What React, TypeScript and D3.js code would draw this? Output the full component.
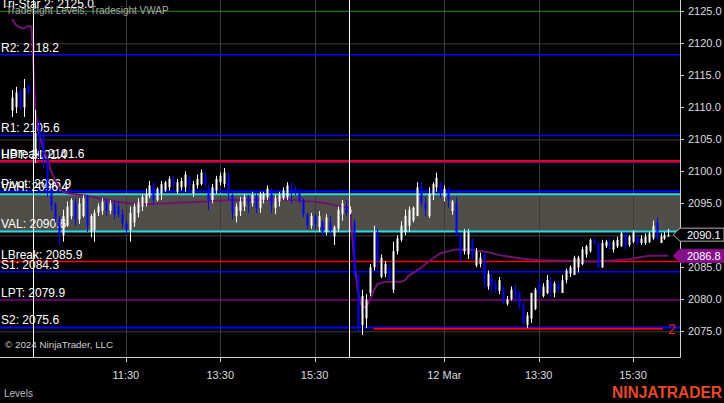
import React from "react";
import * as d3 from "d3";

const WIDTH = 724;
const HEIGHT = 403;
const PLOT_RIGHT = 680;
const PLOT_BOTTOM = 357;
const FONT = "'Liberation Sans', Arial, sans-serif";

// ---------- data ----------
const priceTicks = [2075, 2080, 2085, 2090, 2095, 2100, 2105, 2110, 2115, 2120, 2125];
const gridPrices = [2075, 2090, 2105, 2120];
const timeTickIdx = [23, 47, 71, 104, 128, 152];
const timeTickLabels = ["11:30", "13:30", "15:30", "12 Mar", "13:30", "15:30"];
const sessionBreakIdx = [-0.7, 79.8];

const levelNames = ["Tri-Star 2", "R2", "R1", "UBreak", "HPT", "Pivot", "VAH", "VAL", "LBreak", "S1", "LPT", "S2"];
const levelValues = [2125.0, 2118.2, 2105.6, 2101.6, 2101.4, 2096.9, 2096.4, 2090.6, 2085.9, 2084.3, 2079.9, 2075.6];

// [bar index, open, high, low, close]
const candles: [number, number, number, number, number][] = [
  [-6, 2109.5, 2112.7, 2108.5, 2111.5],
  [-5, 2110.0, 2113.2, 2109.1, 2112.3],
  [-4, 2112.5, 2112.7, 2109.6, 2110.0],
  [-3, 2110.0, 2114.4, 2108.5, 2113.0],
  [-2, 2113.4, 2113.5, 2112.0, 2112.2],
  [0, 2102.5, 2109.6, 2101.3, 2106.0],
  [1, 2106.9, 2108.0, 2101.8, 2105.3],
  [2, 2105.6, 2106.5, 2100.5, 2101.8],
  [3, 2101.8, 2102.2, 2096.0, 2096.6],
  [4, 2097.0, 2097.5, 2093.8, 2094.7],
  [5, 2094.8, 2095.2, 2092.0, 2092.6],
  [6, 2092.5, 2093.0, 2088.4, 2090.0],
  [7, 2090.0, 2094.0, 2089.0, 2093.0],
  [8, 2091.5, 2095.3, 2091.3, 2094.5],
  [9, 2093.0, 2095.8, 2092.5, 2095.5],
  [10, 2095.2, 2095.8, 2091.5, 2092.5],
  [11, 2092.5, 2095.8, 2091.8, 2095.0],
  [12, 2093.0, 2096.3, 2092.8, 2095.8],
  [13, 2096.0, 2096.3, 2090.5, 2091.5],
  [14, 2090.5, 2093.3, 2089.7, 2093.0],
  [15, 2090.8, 2094.0, 2089.0, 2093.5],
  [16, 2093.5, 2095.0, 2093.0, 2094.5],
  [17, 2093.8, 2095.8, 2093.2, 2095.2],
  [18, 2095.2, 2095.6, 2093.0, 2093.8],
  [19, 2093.8, 2095.5, 2093.3, 2095.0],
  [20, 2095.0, 2095.5, 2092.5, 2093.3],
  [21, 2094.5, 2095.3, 2092.8, 2093.3],
  [22, 2093.3, 2094.0, 2091.2, 2091.8],
  [23, 2091.8, 2092.3, 2090.2, 2090.8],
  [24, 2090.8, 2094.5, 2089.0, 2093.5],
  [25, 2092.0, 2095.0, 2091.3, 2094.5],
  [26, 2093.5, 2095.8, 2092.8, 2095.2],
  [27, 2094.5, 2096.5, 2093.8, 2096.0],
  [28, 2095.0, 2097.3, 2094.5, 2096.5],
  [29, 2096.2, 2098.5, 2095.8, 2097.8],
  [30, 2097.8, 2098.3, 2094.8, 2095.5],
  [31, 2095.5, 2097.5, 2095.3, 2097.3],
  [32, 2096.5, 2098.5, 2095.5, 2098.0],
  [33, 2097.0, 2098.5, 2096.8, 2098.3],
  [34, 2097.5, 2099.2, 2097.0, 2098.8],
  [35, 2098.8, 2099.3, 2097.3, 2098.0],
  [36, 2096.8, 2098.8, 2096.5, 2098.3],
  [37, 2097.5, 2099.0, 2097.0, 2098.5],
  [38, 2097.5, 2100.0, 2096.8, 2099.5],
  [39, 2099.0, 2099.3, 2097.0, 2097.8],
  [40, 2096.5, 2098.5, 2096.0, 2098.0],
  [41, 2097.8, 2099.5, 2097.3, 2098.8],
  [42, 2098.0, 2100.3, 2097.8, 2099.8],
  [43, 2099.3, 2099.8, 2097.5, 2098.0],
  [44, 2097.5, 2098.0, 2094.0, 2095.5],
  [45, 2095.5, 2098.0, 2095.0, 2097.5],
  [46, 2097.0, 2099.3, 2096.5, 2098.8],
  [47, 2098.3, 2099.8, 2097.8, 2099.3],
  [48, 2098.0, 2100.5, 2097.5, 2099.8],
  [49, 2099.3, 2099.8, 2095.5, 2096.5],
  [50, 2096.3, 2096.5, 2092.5, 2093.5],
  [51, 2093.0, 2095.0, 2092.0, 2094.5],
  [52, 2093.8, 2096.0, 2093.0, 2095.3],
  [53, 2094.5, 2096.5, 2093.8, 2096.0],
  [54, 2096.0, 2096.3, 2093.5, 2095.0],
  [55, 2095.0, 2096.8, 2094.5, 2096.3],
  [56, 2096.2, 2096.5, 2093.5, 2094.3],
  [57, 2094.3, 2096.8, 2093.5, 2096.5],
  [58, 2095.5, 2096.8, 2095.0, 2096.5],
  [59, 2096.0, 2097.8, 2095.5, 2097.3],
  [60, 2097.0, 2097.3, 2093.5, 2094.8],
  [61, 2094.3, 2096.3, 2093.3, 2095.8],
  [62, 2095.3, 2096.8, 2094.5, 2096.3],
  [63, 2095.8, 2097.5, 2095.5, 2097.0],
  [64, 2096.0, 2098.3, 2095.5, 2097.8],
  [65, 2097.5, 2098.3, 2095.0, 2096.8],
  [66, 2097.3, 2097.8, 2096.3, 2096.8],
  [67, 2096.8, 2097.3, 2095.0, 2095.5],
  [68, 2095.5, 2095.8, 2092.8, 2093.3],
  [69, 2093.3, 2093.5, 2091.0, 2091.5],
  [70, 2091.5, 2093.5, 2091.0, 2093.0],
  [71, 2093.0, 2093.3, 2091.0, 2091.8],
  [72, 2091.3, 2093.8, 2090.5, 2093.0],
  [73, 2092.0, 2092.3, 2090.0, 2090.5],
  [74, 2090.5, 2093.3, 2090.0, 2092.8],
  [75, 2092.0, 2093.0, 2089.8, 2090.8],
  [76, 2089.8, 2091.5, 2088.5, 2091.3],
  [77, 2091.0, 2094.5, 2090.5, 2094.0],
  [78, 2093.3, 2095.5, 2092.3, 2095.0],
  [79, 2094.5, 2095.5, 2093.0, 2093.5],
  [80, 2093.5, 2094.5, 2093.3, 2094.0],
  [81, 2092.0, 2092.5, 2083.5, 2083.8],
  [82, 2083.8, 2084.0, 2074.9, 2075.7],
  [83, 2076.0, 2081.5, 2074.4, 2080.5],
  [84, 2077.0, 2080.8, 2075.5, 2080.0],
  [85, 2081.0, 2085.5, 2080.5, 2085.0],
  [86, 2085.0, 2091.5, 2084.5, 2090.5],
  [87, 2090.5, 2091.0, 2084.8, 2086.0],
  [88, 2083.5, 2087.0, 2083.3, 2086.5],
  [89, 2084.0, 2086.0, 2083.5, 2085.5],
  [90, 2085.0, 2085.5, 2083.0, 2083.3],
  [91, 2081.5, 2089.0, 2081.0, 2087.5],
  [92, 2087.5, 2090.0, 2087.0, 2089.5],
  [93, 2089.3, 2092.2, 2089.0, 2091.5],
  [94, 2090.5, 2094.0, 2090.0, 2093.0],
  [95, 2091.5, 2094.5, 2090.5, 2094.0],
  [96, 2092.3, 2094.5, 2092.0, 2094.3],
  [97, 2093.0, 2098.3, 2093.0, 2097.5],
  [98, 2097.8, 2098.3, 2094.5, 2095.0],
  [99, 2095.0, 2096.0, 2093.0, 2094.0],
  [100, 2093.0, 2097.5, 2092.7, 2096.5],
  [101, 2096.3, 2098.3, 2095.5, 2098.0],
  [102, 2097.5, 2099.8, 2096.8, 2099.0],
  [103, 2098.0, 2098.3, 2095.8, 2096.5],
  [104, 2096.0, 2097.8, 2095.3, 2097.3],
  [105, 2097.3, 2097.5, 2094.3, 2095.5],
  [106, 2093.8, 2095.5, 2093.2, 2095.3],
  [107, 2095.0, 2096.0, 2089.8, 2090.0],
  [108, 2090.0, 2090.3, 2085.8, 2087.0],
  [109, 2087.5, 2091.0, 2087.0, 2090.5],
  [110, 2087.0, 2091.0, 2086.3, 2090.5],
  [111, 2089.3, 2089.5, 2086.3, 2086.5],
  [112, 2085.3, 2088.0, 2085.0, 2087.5],
  [113, 2085.5, 2087.3, 2085.0, 2086.5],
  [114, 2087.0, 2087.3, 2081.8, 2082.5],
  [115, 2082.0, 2084.5, 2081.5, 2084.0],
  [116, 2083.3, 2084.0, 2081.0, 2082.0],
  [117, 2082.5, 2083.0, 2081.0, 2081.5],
  [118, 2081.3, 2083.5, 2080.8, 2083.0],
  [119, 2081.8, 2082.0, 2079.3, 2079.5],
  [120, 2079.3, 2080.5, 2079.0, 2080.0],
  [121, 2080.0, 2082.0, 2079.8, 2081.5],
  [122, 2081.5, 2082.3, 2079.5, 2080.5],
  [123, 2081.0, 2081.3, 2078.5, 2079.0],
  [124, 2079.3, 2079.5, 2076.0, 2076.3],
  [125, 2076.0, 2078.0, 2075.5, 2077.5],
  [126, 2077.0, 2081.0, 2076.3, 2081.0],
  [127, 2078.5, 2081.8, 2078.3, 2081.5],
  [128, 2082.5, 2083.3, 2080.3, 2081.0],
  [129, 2080.5, 2082.5, 2080.3, 2082.0],
  [130, 2081.0, 2083.8, 2080.8, 2083.0],
  [131, 2082.8, 2083.5, 2080.3, 2081.5],
  [132, 2081.0, 2082.8, 2080.3, 2082.5],
  [133, 2082.3, 2082.8, 2081.0, 2081.5],
  [134, 2081.0, 2083.8, 2081.0, 2083.0],
  [135, 2083.0, 2084.8, 2082.5, 2084.5],
  [136, 2084.0, 2085.3, 2083.5, 2085.0],
  [137, 2083.8, 2086.8, 2083.8, 2086.5],
  [138, 2085.0, 2086.8, 2084.2, 2086.5],
  [139, 2085.5, 2088.2, 2085.3, 2087.8],
  [140, 2087.0, 2088.5, 2086.5, 2088.3],
  [141, 2087.5, 2089.5, 2087.3, 2089.3],
  [142, 2089.3, 2089.5, 2088.5, 2088.8],
  [143, 2088.8, 2089.0, 2084.9, 2085.0],
  [144, 2085.0, 2089.3, 2084.9, 2088.8],
  [145, 2088.3, 2089.3, 2088.0, 2089.0],
  [146, 2088.8, 2089.5, 2087.8, 2088.5],
  [147, 2087.8, 2089.3, 2087.3, 2089.0],
  [148, 2088.3, 2089.8, 2088.0, 2089.3],
  [149, 2088.3, 2090.5, 2088.2, 2090.3],
  [150, 2090.3, 2090.5, 2087.8, 2088.3],
  [151, 2088.5, 2090.0, 2088.2, 2089.8],
  [152, 2089.0, 2090.8, 2088.8, 2090.5],
  [153, 2089.8, 2090.0, 2088.5, 2088.8],
  [154, 2088.8, 2090.0, 2088.5, 2089.5],
  [155, 2088.8, 2090.3, 2088.5, 2089.8],
  [156, 2089.0, 2090.5, 2088.8, 2090.3],
  [157, 2089.5, 2092.3, 2089.3, 2091.5],
  [158, 2092.0, 2092.8, 2089.3, 2089.5],
  [159, 2088.8, 2090.3, 2088.8, 2089.8],
  [160, 2089.5, 2090.5, 2089.3, 2090.0],
  [161, 2089.8, 2091.0, 2089.8, 2090.1],
];

// VWAP: [bar index, value]
const vwap: [number, number][] = [
  [-6, 2123.8], [-5, 2122.9], [-4, 2122.5], [-3, 2122.3], [-2, 2122.7], [-1, 2122.6],
  [0, 2109.2], [1, 2105.5], [2, 2103.5], [3, 2102.0], [4, 2100.0], [5, 2098.6],
  [6, 2097.5], [7, 2096.8], [8, 2096.6], [10, 2096.4], [13, 2096.2], [16, 2095.8],
  [20, 2095.3], [24, 2095.0], [28, 2094.85], [32, 2094.95], [36, 2095.1], [41, 2095.2],
  [50, 2095.5], [60, 2095.55], [66, 2095.5], [70, 2095.3], [74, 2095.0], [77, 2094.6],
  [80, 2094.3],
  [81, 2086.6], [82, 2081.2], [83, 2078.9], [84, 2078.7], [85, 2079.8], [86, 2081.3],
  [87, 2082.4], [89, 2082.75], [93, 2082.75], [94, 2083.0], [95, 2083.7], [98, 2084.9],
  [100, 2085.9], [103, 2087.2], [107, 2087.8], [110, 2087.8], [115, 2087.4], [118, 2086.9],
  [123, 2086.4], [128, 2086.1], [143, 2085.9], [151, 2086.25], [156, 2086.8], [161, 2086.8],
];

const lastPrice = 2090.1;
const lastVwap = 2086.8;
const rayPrice = 2075.4;
const rayFromIdx = 86;
const rayToIdx = 159.6;
const rayLabel = "2";

// ---------- styles ----------
const levelStyle: Record<string, { color: string; width: number }> = {
  "Tri-Star 2": { color: "#2f8a2f", width: 1 },
  R2: { color: "#0000ff", width: 1.5 },
  R1: { color: "#0000ff", width: 1.5 },
  UBreak: { color: "#ff0000", width: 2 },
  HPT: { color: "#800080", width: 1.5 },
  Pivot: { color: "#0000ff", width: 2 },
  VAH: { color: "#22e0e6", width: 2 },
  VAL: { color: "#22e0e6", width: 2 },
  LBreak: { color: "#ff0000", width: 1.5 },
  S1: { color: "#0000ff", width: 1.5 },
  LPT: { color: "#800080", width: 1.5 },
  S2: { color: "#0000ff", width: 2 },
};

export default function App() {
  const x = d3.scaleLinear().domain([-6, 161]).range([11.9, 668.4]);
  const y = d3.scaleLinear().domain([2075, 2125]).range([331.3, 11.3]);

  const vahIdx = levelNames.indexOf("VAH");
  const valIdx = levelNames.indexOf("VAL");
  const vaTop = y(levelValues[vahIdx]);
  const vaBottom = y(levelValues[valIdx]);

  const vwapLine = d3
    .line<[number, number]>()
    .x((d) => x(d[0]))
    .y((d) => y(d[1]))
    .curve(d3.curveLinear);

  const bodyW = 2;

  const marker = (price: number, fill: string, stroke: string) => {
    const cy = y(price);
    const h = 13;
    const tip = 673;
    const left = 680;
    const right = 724;
    const pts = [
      [tip, cy],
      [left, cy - h / 2],
      [right, cy - h / 2],
      [right, cy + h / 2],
      [left, cy + h / 2],
    ]
      .map((p) => p.join(","))
      .join(" ");
    return (
      <g key={"m" + price}>
        <polygon points={pts} fill={fill} stroke={stroke} strokeWidth={1} />
        <text x={687} y={cy + 4} fill="#ffffff" fontSize={11} fontFamily={FONT}>
          {price.toFixed(1)}
        </text>
      </g>
    );
  };

  return (
    <svg
      width={WIDTH}
      height={HEIGHT}
      style={{ position: "absolute", left: 0, top: 0, display: "block" }}
    >
      <rect x={0} y={0} width={WIDTH} height={HEIGHT} fill="#000000" />

      {/* value area fill */}
      <rect x={0} y={vaTop} width={PLOT_RIGHT} height={vaBottom - vaTop} fill="#4f4e48" />

      {/* grid */}
      {gridPrices.map((p) => (
        <line key={"gh" + p} x1={0} x2={PLOT_RIGHT} y1={y(p) + 0.5} y2={y(p) + 0.5} stroke="#3c3c3c" strokeWidth={1} />
      ))}
      {timeTickIdx.map((t) => (
        <line key={"gv" + t} x1={Math.round(x(t)) + 0.5} x2={Math.round(x(t)) + 0.5} y1={0} y2={PLOT_BOTTOM} stroke="#3c3c3c" strokeWidth={1} />
      ))}

      {/* levels */}
      {levelNames.map((n, i) => {
        const s = levelStyle[n];
        const ly = y(levelValues[i]);
        return <line key={"lv" + n} x1={0} x2={PLOT_RIGHT} y1={ly} y2={ly} stroke={s.color} strokeWidth={s.width} />;
      })}

      {/* level labels */}
      {levelNames.map((n, i) => (
        <text key={"lt" + n} x={1} y={y(levelValues[i]) - 3} fill="#ffffff" fontSize={12} fontFamily={FONT}>
          {`${n}: ${levelValues[i].toFixed(1)}`}
        </text>
      ))}

      {/* ray drawing */}
      <line x1={x(rayFromIdx)} x2={x(rayToIdx)} y1={y(rayPrice)} y2={y(rayPrice)} stroke="#ff0000" strokeWidth={2} />
      <text x={x(rayToIdx) + 5} y={y(rayPrice) + 5.5} fill="#e02424" fontSize={14} fontFamily={FONT}>
        {rayLabel}
      </text>

      {/* VWAP */}
      <path d={vwapLine(vwap) || ""} fill="none" stroke="#6e1470" strokeWidth={2} />

      {/* candles */}
      {candles.map(([i, o, h, l, c]) => {
        const cx = Math.round(x(i)) + 0.5;
        const up = c >= o;
        const color = up ? "#ffffff" : "#0000ff";
        const top = y(Math.max(o, c));
        const bot = y(Math.min(o, c));
        return (
          <g key={"c" + i}>
            <line x1={cx} x2={cx} y1={y(h)} y2={y(l)} stroke={color} strokeWidth={1} />
            <rect x={cx - bodyW / 2} y={top} width={bodyW} height={Math.max(1, bot - top)} fill={color} />
          </g>
        );
      })}

      {/* session breaks */}
      {sessionBreakIdx.map((s) => (
        <line key={"sb" + s} x1={Math.round(x(s)) + 0.5} x2={Math.round(x(s)) + 0.5} y1={0} y2={PLOT_BOTTOM} stroke="#ffffff" strokeWidth={1} />
      ))}

      {/* title */}
      <text x={6} y={14} fill="#a8a8a8" fontSize={10} fontFamily={FONT}>
        Tradesight Levels, Tradesight VWAP
      </text>

      {/* copyright */}
      <text x={5} y={347.5} fill="#cfcfcf" fontSize={9.8} fontFamily={FONT}>
        © 2024 NinjaTrader, LLC
      </text>

      {/* axes */}
      <line x1={PLOT_RIGHT + 0.5} x2={PLOT_RIGHT + 0.5} y1={0} y2={PLOT_BOTTOM + 0.5} stroke="#d0d0d0" strokeWidth={1} />
      <line x1={0} x2={PLOT_RIGHT + 0.5} y1={PLOT_BOTTOM + 0.5} y2={PLOT_BOTTOM + 0.5} stroke="#d0d0d0" strokeWidth={1} />
      {priceTicks.map((p) => (
        <g key={"pt" + p}>
          <line x1={PLOT_RIGHT} x2={PLOT_RIGHT + 4} y1={Math.round(y(p)) + 0.5} y2={Math.round(y(p)) + 0.5} stroke="#d0d0d0" />
          <text x={688} y={y(p) + 4} fill="#dcdcdc" fontSize={11} fontFamily={FONT}>
            {p.toFixed(1)}
          </text>
        </g>
      ))}
      {timeTickIdx.map((t, k) => (
        <g key={"tt" + t}>
          <line x1={Math.round(x(t)) + 0.5} x2={Math.round(x(t)) + 0.5} y1={PLOT_BOTTOM} y2={PLOT_BOTTOM + 5} stroke="#d0d0d0" />
          <text x={x(t)} y={379} fill="#dcdcdc" fontSize={11} fontFamily={FONT} textAnchor="middle">
            {timeTickLabels[k]}
          </text>
        </g>
      ))}

      {/* price markers */}
      {marker(lastPrice, "#000000", "#b0b0b0")}
      {marker(lastVwap, "#85108a", "#85108a")}

      {/* footer */}
      <text x={4} y={397} fill="#bdbdbd" fontSize={10} fontFamily={FONT}>
        Levels
      </text>
      <text x={612} y={398} fill="#e8482a" fontSize={16} fontWeight="bold" fontFamily={FONT} textLength={110} lengthAdjust="spacingAndGlyphs">
        NINJATRADER
      </text>
    </svg>
  );
}
